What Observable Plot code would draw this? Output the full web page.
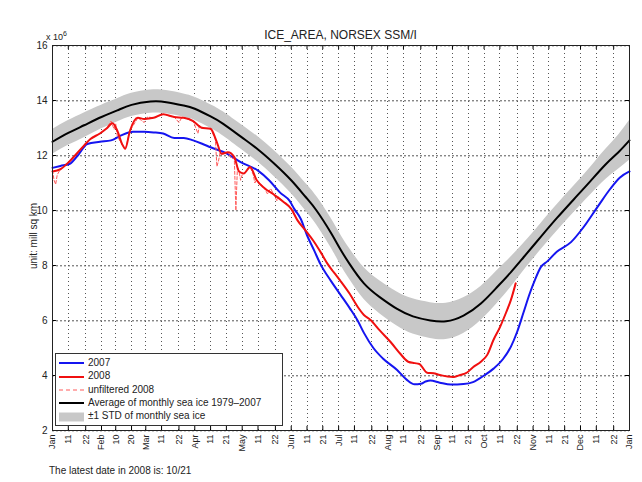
<!DOCTYPE html>
<html><head><meta charset="utf-8">
<script src="https://cdn.jsdelivr.net/npm/d3@7"></script>
<script src="https://cdn.jsdelivr.net/npm/@observablehq/plot@0.6"></script>
<style>
html,body{margin:0;padding:0;background:#fff;}
#wrap{position:relative;width:642px;height:482px;overflow:hidden;font-family:"Liberation Sans",Arial,Helvetica,sans-serif;color:#222;}
#wrap svg.plot{position:absolute;left:0;top:0;}
.abs{position:absolute;white-space:nowrap;}
#title{left:52px;width:577px;top:29px;text-align:center;font-size:12px;line-height:12px;}
#exp{left:46px;top:29px;font-size:9px;line-height:9px;}
#exp sup{font-size:7px;}
#ylab{left:33px;top:236px;transform:translate(-50%,-50%) rotate(-90deg);font-size:10px;}
#note{left:49px;top:466px;font-size:10px;line-height:10px;}
#legend{left:55px;top:353px;width:226px;height:71px;border:1px solid #333;background:#fff;font-size:10px;}
#legend .row{position:absolute;left:2px;height:12px;line-height:12px;}
#legend .row svg{vertical-align:middle;margin-right:3px;}
#legend .row span{vertical-align:middle;}
</style></head>
<body><div id="wrap"></div>
<script>
// x: day of year (0 = Jan 1), y: million sq km
const xTickDays = [0,10,21,31,40,50,59,69,80,90,100,110,120,130,141,151,161,171,181,191,202,212,222,233,243,253,263,273,283,294,304,314,324,334,344,355,365];
const xTickLabels = ["Jan","11","22","Feb","10","20","Mar","11","22","Apr","11","21","May","11","22","Jun","11","21","Jul","11","22","Aug","11","22","Sep","11","21","Oct","11","22","Nov","11","21","Dec","11","22","Jan"];
const yTicks = [2,4,6,8,10,12,14,16];

const avgDays = [0,10,20,31,41,50,62,72,83,90,100,108,120,130,140,151,160,167,176,182,188,197,207,218,228,239,249,260,271,281,290,298,309,319,330,340,350,358,365];
const avgValues = [12.5,12.82,13.1,13.4,13.64,13.84,13.96,13.94,13.82,13.7,13.42,13.15,12.65,12.22,11.72,11.1,10.5,10.0,9.2,8.6,8.05,7.35,6.85,6.42,6.15,6.0,5.97,6.18,6.62,7.2,7.76,8.3,9.05,9.72,10.42,11.05,11.68,12.12,12.55];
const stdValues = [0.45,0.45,0.45,0.43,0.42,0.42,0.42,0.42,0.42,0.42,0.43,0.44,0.45,0.46,0.47,0.48,0.5,0.52,0.54,0.55,0.56,0.58,0.6,0.62,0.64,0.65,0.66,0.65,0.62,0.6,0.55,0.5,0.48,0.48,0.48,0.5,0.55,0.62,0.72];

const days2007 = [0,5,11,16,22,30,37,43,51,58,64,70,77,83,89,95,100,110,119,130,137,144,150,153,157,161,165.5,169.5,176,182,188,193,197,203,209,218,224,229,233,236,239,245,252,260,266,273,279,285,290,294,298,302,305,309,313,319,328,336,345,353,359,365];
const values2007 = [11.55,11.62,11.7,12.0,12.42,12.5,12.55,12.72,12.86,12.86,12.84,12.8,12.64,12.64,12.55,12.42,12.3,12.08,11.76,11.45,11.1,10.65,10.35,10.05,9.7,9.1,8.55,8.05,7.45,6.95,6.45,6.0,5.55,5.0,4.62,4.2,3.85,3.68,3.7,3.78,3.82,3.74,3.67,3.69,3.76,4.0,4.25,4.6,5.05,5.6,6.3,7.0,7.45,7.95,8.15,8.5,8.85,9.4,10.15,10.8,11.2,11.42];

const days2008 = [0,5,11,18,24,30,34,38,41,44,46,49,54,58,64,70,77,83,89,94,100,104,107,111,115,118,121,125,129,134,140,146,151,155,160,165,170,174,178,182,188,193,197,201,207,214,220,225,229,232,237,241,245,250,254,258,262,266,271,275,279,283,287,290,293];
const values2008 = [11.42,11.5,11.8,12.24,12.6,12.8,12.97,13.17,12.9,12.42,12.25,12.9,13.37,13.33,13.37,13.5,13.4,13.37,13.25,13.02,12.97,12.48,12.06,12.12,11.94,11.42,11.35,11.58,11.12,10.82,10.58,10.32,10.06,9.64,9.28,8.9,8.45,8.06,7.75,7.45,6.97,6.5,6.2,6.03,5.64,5.21,4.79,4.5,4.45,4.42,4.1,4.08,4.02,3.96,3.95,4.02,4.1,4.3,4.5,4.75,5.3,5.75,6.3,6.75,7.35];

const daysRaw2008 = [0,1,2,3,5,11,18,24,30,34,37,39,40,41,44,46,49,54,58,60,64,70,77,80,82,89,92,93,94,100,103,104,105,106,107,111,113,115,116,117,118,119,120,121,125,127,128,129,134,136,138,140,142,143,146,151,155,160,165,170,174,178,182,188,193,197,201,207,214,220,225,229,232,237,241,245,250,254,258,262,266,271,275,279,283,287,290,293];
const valuesRaw2008 = [11.45,11.1,10.95,11.3,11.5,11.8,12.24,12.6,12.8,12.97,13.25,12.95,13.15,12.7,12.4,12.2,12.9,13.37,13.2,13.4,13.37,13.5,13.4,13.2,13.4,13.25,12.8,13.1,13.0,12.97,12.6,11.6,11.8,12.1,12.06,12.12,11.9,11.9,10.0,11.6,11.42,11.1,11.3,11.35,11.58,11.3,11.0,11.12,10.82,10.6,10.8,10.58,10.35,10.5,10.32,10.06,9.64,9.28,8.9,8.45,8.06,7.75,7.45,6.97,6.5,6.2,6.03,5.64,5.21,4.79,4.5,4.45,4.42,4.1,4.08,4.02,3.96,3.95,4.02,4.1,4.3,4.5,4.75,5.3,5.75,6.3,6.75,7.35];

const avg = avgDays.map((d,i) => ({day: d, v: avgValues[i], lo: avgValues[i]-stdValues[i], hi: avgValues[i]+stdValues[i]}));
const s2007 = days2007.map((d,i) => ({day: d, v: values2007[i]}));
const s2008 = days2008.map((d,i) => ({day: d, v: values2008[i]}));
const raw2008 = daysRaw2008.map((d,i) => ({day: d, v: valuesRaw2008[i]}));

const gridStyleX = {stroke: "#555", strokeDasharray: "1,3", strokeWidth: 1, shapeRendering: "crispEdges"};

const chart = Plot.plot({
  width: 642, height: 482,
  marginLeft: 52, marginRight: 13, marginTop: 45, marginBottom: 52,
  style: {fontFamily: "'Liberation Sans', Arial, sans-serif", background: "#fff", color: "#222"},
  x: {domain: [0, 365]},
  y: {domain: [2, 16]},
  marks: [
    Plot.ruleX(xTickDays, {x: d => d, ...gridStyleX}),
    Plot.ruleY(yTicks, {y: d => d, stroke: "#555", strokeWidth: 1, strokeDasharray: "2,2", dy: 0.3}),
    Plot.areaY(avg, {x: "day", y1: "lo", y2: "hi", fill: "#c8c8c8", curve: "natural"}),
    Plot.line(avg, {x: "day", y: "v", stroke: "#000", strokeWidth: 2, curve: "natural"}),
    Plot.line(s2007, {x: "day", y: "v", stroke: "#1515f0", strokeWidth: 2, curve: "monotone-x"}),
    Plot.line(raw2008, {x: "day", y: "v", stroke: "#ff5a5a", strokeWidth: 1, strokeDasharray: "3,2", curve: "linear"}),
    Plot.line(s2008, {x: "day", y: "v", stroke: "#f01010", strokeWidth: 2, curve: "monotone-x"}),
    Plot.ruleX(xTickDays, {x: d => d, y1: () => 2, y2: () => 2.15, stroke: "#000", strokeWidth: 1}),
    Plot.ruleX(xTickDays, {x: d => d, y1: () => 15.85, y2: () => 16, stroke: "#000", strokeWidth: 1}),
    Plot.ruleY(yTicks, {y: d => d, x1: () => 0, x2: () => 2.5, stroke: "#000", strokeWidth: 1}),
    Plot.ruleY(yTicks, {y: d => d, x1: () => 362.5, x2: () => 365, stroke: "#000", strokeWidth: 1}),
    Plot.axisX({ticks: xTickDays, tickSize: 0, tickPadding: 4, tickRotate: -90, textAnchor: "end", fontSize: 9, label: null, tickFormat: d => xTickLabels[xTickDays.indexOf(d)]}),
    Plot.axisY({ticks: yTicks, tickSize: 0, tickPadding: 5, fontSize: 10, label: null, tickFormat: d => String(d)}),
    Plot.frame({stroke: "#222", strokeWidth: 1})
  ]
});
chart.classList.add("plot");

const wrap = document.getElementById("wrap");
wrap.appendChild(chart);

function addDiv(id, html) {
  const el = document.createElement("div");
  el.id = id; el.className = "abs"; el.innerHTML = html;
  wrap.appendChild(el);
  return el;
}
addDiv("title", "ICE_AREA, NORSEX SSM/I");
addDiv("exp", "x 10<sup>6</sup>");
addDiv("ylab", "unit: mill sq km");
addDiv("note", "The latest date in 2008 is: 10/21");

const legendItems = [
  {label: "2007", stroke: "#1515f0", width: 2, dash: null},
  {label: "2008", stroke: "#f01010", width: 2, dash: null},
  {label: "unfiltered 2008", stroke: "#ff5a5a", width: 1, dash: "4,3"},
  {label: "Average of monthly sea ice 1979\u20132007", stroke: "#000", width: 2, dash: null},
  {label: "\u00b11 STD of monthly sea ice", stroke: "#c8c8c8", width: 9, dash: null}
];
const legend = addDiv("legend", "");
legendItems.forEach((it, i) => {
  const row = document.createElement("div");
  row.className = "row";
  row.style.top = (3 + i * 13.3) + "px";
  row.innerHTML = `<svg width="27" height="10"><line x1="1" x2="26" y1="5" y2="5" stroke="${it.stroke}" stroke-width="${it.width}" ${it.dash ? `stroke-dasharray="${it.dash}"` : ""}/></svg><span>${it.label}</span>`;
  legend.appendChild(row);
});
</script>
</body></html>
